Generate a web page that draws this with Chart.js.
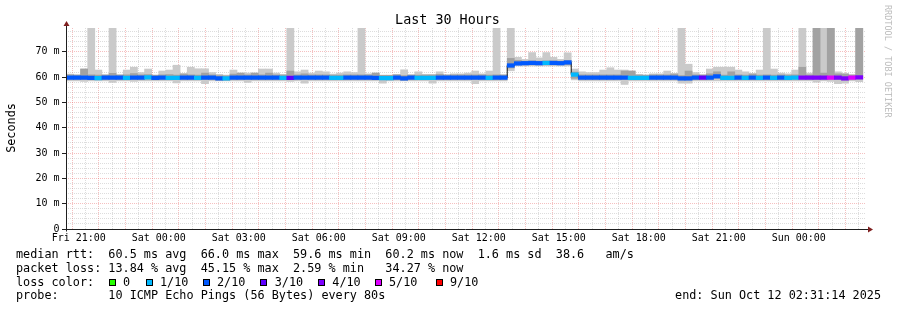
<!DOCTYPE html>
<html><head><meta charset="utf-8">
<script src="https://cdn.jsdelivr.net/npm/chart.js@4/dist/chart.umd.min.js"></script>
<style>
html,body{margin:0;padding:0;background:#fff;}
#wrap{position:relative;width:897px;height:310px;overflow:hidden;font-family:"DejaVu Sans Mono",monospace;color:#000;}
canvas{position:absolute;left:0;top:0;}
.t{position:absolute;white-space:pre;font-size:11.8px;line-height:14px;}
.sq{position:absolute;width:7px;height:7px;box-sizing:border-box;border:1px solid #000;}
</style></head><body>
<div id="wrap">
<canvas id="c" width="897" height="310"></canvas>
<div id="title" style="position:absolute;left:0;width:895px;top:12.4px;text-align:center;font-size:13.4px;line-height:16px;white-space:pre;">Last 30 Hours</div>
<div id="ylab" class="t" style="left:-19.3px;top:120.5px;width:60px;text-align:center;transform:rotate(-90deg);">Seconds</div>
<div id="rrd" style="position:absolute;left:832.4px;top:56px;width:112px;height:10px;line-height:10px;font-size:8.5px;text-align:center;color:#bdbdbd;white-space:pre;transform:rotate(90deg);">RRDTOOL / TOBI OETIKER</div>
<div id="row1" class="t" style="left:16px;top:247.2px;"></div>
<div id="row2" class="t" style="left:16px;top:260.6px;"></div>
<div id="row3" class="t" style="left:16px;top:274.6px;">loss color:</div>
<div id="row4" class="t" style="left:16px;top:288.2px;"></div>
<div id="end" class="t" style="right:16px;top:288.2px;text-align:right;"></div>
</div>
<script>
// ---------------- data ----------------
// time axis in hours relative to Fri 21:00; window ends Sun Oct 12 02:31:14 2025
const windowEndHours = 29 + 31/60 + 14/3600; // Sun 02:31:14
const windowHours = 30;
const slotMinutes = 16;               // consolidated step (12 x 80 s)
const firstSlotStartHours = -28/60;   // Fri 20:32

const xTickHours  = [0, 3, 6, 9, 12, 15, 18, 21, 24, 27];
const xTickLabels = ["Fri 21:00","Sat 00:00","Sat 03:00","Sat 06:00","Sat 09:00","Sat 12:00","Sat 15:00","Sat 18:00","Sat 21:00","Sun 00:00"];
const yTickValues = [0, 10, 20, 30, 40, 50, 60, 70];
const yTickLabels = ["0","10 m","20 m","30 m","40 m","50 m","60 m","70 m"];
const yMaxMs = 79.4;

// median rtt per slot (ms)
const medianMs = [
 59.8,59.8,59.8,59.7,59.6,59.8,59.8,59.8,59.7,59.8,59.8,59.9,59.7,59.8,59.7,59.7,59.8,59.8,59.7,59.8,59.8,59.5,59.5,59.8,59.8,59.8,59.8,59.8,
 59.8,59.8,59.7,59.7,59.8,59.8,59.8,59.8,59.8,59.7,59.7,59.8,59.8,59.8,59.8,59.7,59.6,59.6,59.8,59.5,59.8,59.7,59.7,59.7,59.8,59.8,59.8,59.8,
 59.8,59.8,59.8,59.7,59.8,59.8,64.6,65.4,65.5,65.6,65.5,65.6,65.6,65.5,65.8,61.0,59.8,59.8,59.8,59.8,59.8,59.8,59.8,59.7,59.7,59.7,59.8,59.8,
 59.8,59.8,59.5,59.5,59.8,59.8,59.8,60.3,59.7,59.7,59.8,59.7,59.8,59.7,59.8,59.7,59.8,59.7,59.8,59.8,59.8,59.8,59.8,59.8,59.8,59.5,59.8,59.9
];
// lost pings out of 10 per slot
const lossTenths = [
 2,2,2,2,1,2,2,2,1,2,2,1,2,2,1,1,2,2,1,2,2,2,1,2,2,2,2,2,
 2,2,1,3,2,2,2,2,2,1,1,2,2,2,2,2,1,1,2,2,2,1,1,1,2,2,2,2,
 2,2,2,1,2,2,2,2,2,2,2,1,2,2,2,1,2,2,2,2,2,2,2,1,1,1,2,2,
 2,2,2,2,2,3,2,2,1,1,2,1,2,1,2,1,2,1,1,4,4,4,4,5,4,4,5,4
];
// outer smoke (all pings) top / bottom (ms); 80 = beyond the top of the graph
const smokeOuterHi = [
 61.2,60.5,63.2,80,62.8,60.8,80,60.8,62.8,63.9,61.8,63.2,60.5,62.4,62.8,64.7,61.3,63.9,63.3,63.3,61.8,61.1,60.8,62.8,61.6,61.6,61.6,63.2,
 63.2,61.6,61.1,80,62.1,62.8,61.6,62.4,62.1,61.2,61.6,62.1,61.8,80,61.3,61.6,60.8,60.8,61.1,62.9,60.8,62.1,61.1,61.1,62.1,60.8,61.3,61.3,
 61.6,62.4,61.3,62.4,80,60.8,80,67.8,67.0,69.7,67.6,69.7,67.8,67.0,69.6,63.2,62.1,61.8,61.8,62.8,63.7,62.8,62.8,62.4,61.1,60.8,61.3,61.3,
 62.4,61.3,80,65.1,61.8,60.8,63.2,63.9,63.9,63.9,62.8,62.1,61.3,62.8,80,63.2,61.6,61.3,62.8,80,61.6,80,80,80,62.1,61.3,60.8,80
];
const smokeOuterLo = [
 58.5,58.5,58.3,58.5,58.5,58.5,57.9,58.5,58.5,58.3,58.5,58.5,58.5,58.5,58.5,57.7,58.5,58.5,58.5,57.4,58.5,58.5,58.5,58.5,58.5,57.9,58.5,58.5,
 58.5,58.5,58.5,58.3,58.5,57.6,58.5,58.5,58.5,58.5,58.5,58.5,58.5,58.5,58.5,58.5,57.6,58.5,58.5,58.5,58.5,58.5,58.5,57.6,58.5,58.5,58.5,58.5,
 58.5,57.4,58.5,58.5,58.5,58.5,62.5,64.4,64.4,64.4,64.4,64.4,64.4,64.4,64.4,58.9,58.5,58.5,58.5,58.5,58.5,58.5,57.1,58.5,58.5,58.5,58.5,58.5,
 58.5,58.5,57.6,57.6,58.5,58.5,58.5,58.5,58.5,58.5,58.5,58.5,58.5,58.5,58.5,58.5,58.5,58.5,58.5,58.5,58.5,58.0,58.5,58.3,57.4,57.6,58.5,58.2
];
// inner smoke (middle pings) top / bottom (ms)
const smokeInnerHi = [
 60.9,60.9,63.2,60.9,60.8,60.9,61.5,60.9,60.9,61.4,60.9,61.0,60.8,60.9,61.0,60.8,61.3,60.9,60.8,61.6,60.9,60.6,60.5,61.2,61.6,60.9,61.6,60.9,
 61.6,60.9,60.8,62.4,60.9,61.3,60.9,60.9,60.9,60.8,60.8,60.9,60.9,60.9,60.9,61.6,60.7,60.7,60.9,60.6,60.9,60.8,60.8,60.8,61.1,60.9,60.9,60.9,
 60.9,60.9,60.9,60.8,60.9,60.9,67.4,66.6,66.3,66.4,66.3,66.4,66.4,66.3,66.5,62.0,60.9,60.9,60.9,60.9,60.9,60.9,62.4,62.4,60.8,60.8,60.9,60.9,
 60.9,61.3,60.6,62.4,60.9,60.9,61.3,62.1,60.8,62.1,60.9,60.8,61.3,60.8,60.9,60.8,60.9,60.8,60.9,63.9,60.9,80,61.6,80,61.3,61.3,60.9,80
];
const smokeInnerLo = [
 59.1,59.1,59.1,59.1,59.0,59.1,59.1,59.1,59.0,59.1,59.1,59.2,59.0,59.1,59.0,59.0,59.1,59.1,59.0,59.1,59.1,58.8,58.8,59.1,59.1,59.1,59.1,59.1,
 59.1,59.1,59.0,59.0,59.1,59.1,59.1,59.1,59.1,59.0,59.0,59.1,59.1,59.1,59.1,59.0,58.9,58.9,59.1,58.8,59.1,59.0,59.0,59.0,59.1,59.1,59.1,59.1,
 59.1,59.1,59.1,59.0,59.1,59.1,63.6,64.9,64.9,64.9,64.9,64.9,64.9,64.9,64.9,59.5,59.1,59.1,59.1,59.1,59.1,59.1,59.1,59.0,59.0,59.0,59.1,59.1,
 59.1,59.1,58.8,58.8,59.1,59.1,59.1,59.6,59.0,59.0,59.1,59.0,59.1,59.0,59.1,59.0,59.1,59.0,59.1,59.1,59.1,59.1,59.1,59.1,59.1,58.8,59.1,59.2
];

// legend / summary texts
const statsMedian = "median rtt:  60.5 ms avg  66.0 ms max  59.6 ms min  60.2 ms now  1.6 ms sd  38.6   am/s";
const statsLoss   = "packet loss: 13.84 % avg  45.15 % max  2.59 % min   34.27 % now";
const probeText   = "probe:       10 ICMP Echo Pings (56 Bytes) every 80s";
const endText     = "end: Sun Oct 12 02:31:14 2025";
const lossLegendLabels = ["0","1/10","2/10","3/10","4/10","5/10","9/10"];
const lossLegendColors = ["#26ff00","#00b8ff","#0059ff","#5e00ff","#7e00ff","#dd00ff","#ff0000"];

// ---------------- build ----------------
function lossColor(l){
  if (l <= 0) return lossLegendColors[0];
  if (l <= 1) return lossLegendColors[1];
  if (l <= 2) return lossLegendColors[2];
  if (l <= 3) return lossLegendColors[3];
  if (l <= 4) return lossLegendColors[4];
  if (l <= 5) return lossLegendColors[5];
  return lossLegendColors[6];
}
const slotH = slotMinutes / 60;
const centers = medianMs.map((_, k) => firstSlotStartHours + (k + 0.5) * slotH);
const halfBand = 0.7;
const medianBand = medianMs.map((m, k) => ({x: centers[k], y: [m - halfBand, m + halfBand]}));
const medianLine = medianMs.map((m, k) => ({x: centers[k], y: m}));
const outer = smokeOuterHi.map((h, k) => ({x: centers[k], y: [smokeOuterLo[k], h]}));
const inner = smokeInnerHi.map((h, k) => ({x: centers[k], y: [smokeInnerLo[k], h]}));

document.getElementById('row1').textContent = statsMedian;
document.getElementById('row2').textContent = statsLoss;
document.getElementById('row4').textContent = probeText;
document.getElementById('end').textContent = endText;
(function(){
  const wrap = document.getElementById('wrap');
  const labelX = [123, 160, 217, 274.7, 332.3, 389, 450];
  lossLegendLabels.forEach((lab, i) => {
    const sq = document.createElement('div');
    sq.className = 'sq';
    sq.style.left = (labelX[i] - 14.3) + 'px';
    sq.style.top = '279px';
    sq.style.background = lossLegendColors[i];
    wrap.appendChild(sq);
    const t = document.createElement('div');
    t.className = 't';
    t.style.left = labelX[i] + 'px';
    t.style.top = '274.6px';
    t.textContent = lab;
    wrap.appendChild(t);
  });
})();

const MAJOR = 'rgba(228,90,90,0.38)';
const MINOR = 'rgba(150,150,150,0.32)';
const FONT = '"DejaVu Sans Mono", monospace';

const axisPlugin = {
  id: 'rrdAxes',
  afterDraw(chart){
    const {ctx, chartArea: a} = chart;
    const xl = Math.round(a.left) + 0.5;
    const yb = Math.round(a.bottom) + 0.5;
    ctx.save();
    ctx.strokeStyle = '#1f1f1f';
    ctx.lineWidth = 1;
    ctx.beginPath();
    ctx.moveTo(xl, yb + 2); ctx.lineTo(xl, a.top - 4);
    ctx.moveTo(a.left - 4, yb); ctx.lineTo(a.right + 3, yb);
    ctx.stroke();
    ctx.fillStyle = '#7f1f1f';
    ctx.beginPath();
    ctx.moveTo(xl, a.top - 7); ctx.lineTo(xl - 3, a.top - 2); ctx.lineTo(xl + 3, a.top - 2); ctx.closePath();
    ctx.fill();
    ctx.beginPath();
    ctx.moveTo(a.right + 7, yb); ctx.lineTo(a.right + 2, yb - 3); ctx.lineTo(a.right + 2, yb + 3); ctx.closePath();
    ctx.fill();
    ctx.restore();
  }
};

new Chart(document.getElementById('c'), {
  type: 'bar',
  data: {
    datasets: [
      {label:'median', data: medianBand, backgroundColor: lossTenths.map(lossColor), grouped:false, barPercentage:1, categoryPercentage:1, borderWidth:0, order:0},
      {type:'line', label:'medianLine', data: medianLine, borderColor:'#111', borderWidth:1, pointRadius:0, stepped:'middle', order:1},
      {label:'inner', data: inner, backgroundColor:'#a2a2a2', grouped:false, barPercentage:1, categoryPercentage:1, borderWidth:0, order:2},
      {label:'outer', data: outer, backgroundColor:'#cacaca', grouped:false, barPercentage:1, categoryPercentage:1, borderWidth:0, order:3}
    ]
  },
  options: {
    responsive:false, animation:false, devicePixelRatio:1,
    layout:{padding:{left:0, top:28, right:31, bottom:0}},
    plugins:{legend:{display:false}, tooltip:{enabled:false}, title:{display:false}},
    scales:{
      x:{
        type:'linear', min: windowEndHours - windowHours, max: windowEndHours, offset:false,
        afterBuildTicks(s){ const t=[]; for(let h=0; h<=windowEndHours; h+=0.5) t.push({value:h}); s.ticks=t; },
        afterFit(s){ s.height = 81; },
        grid:{ color:(c)=> (c.tick && Number.isInteger(c.tick.value)) ? MAJOR : MINOR, drawTicks:false, lineWidth:1 },
        border:{ display:false, dash:[1,1] },
        ticks:{ autoSkip:false, maxRotation:0, minRotation:0, padding:3, color:'#000', font:{family:FONT, size:10},
          callback:(v)=>{ const i = xTickHours.indexOf(v); return i >= 0 ? xTickLabels[i] : ''; } }
      },
      y:{
        type:'linear', min:0, max:yMaxMs,
        afterBuildTicks(s){ const t=[]; for(let v=0; v<yMaxMs; v+=2) t.push({value:v}); s.ticks=t; },
        afterFit(s){ s.width = 66; },
        grid:{ color:(c)=> (c.tick && c.tick.value % 10 === 0) ? MAJOR : MINOR, drawTicks:true, tickLength:4,
          tickColor:(c)=> (c.tick && c.tick.value % 10 === 0) ? '#1f1f1f' : 'rgba(0,0,0,0)' },
        border:{ display:false, dash:[1,1] },
        ticks:{ autoSkip:false, padding:2.5, color:'#000', font:{family:FONT, size:10},
          callback:(v)=>{ const i = yTickValues.indexOf(v); return i >= 0 ? yTickLabels[i] : ''; } }
      }
    }
  },
  plugins:[axisPlugin]
});
</script>
</body></html>
